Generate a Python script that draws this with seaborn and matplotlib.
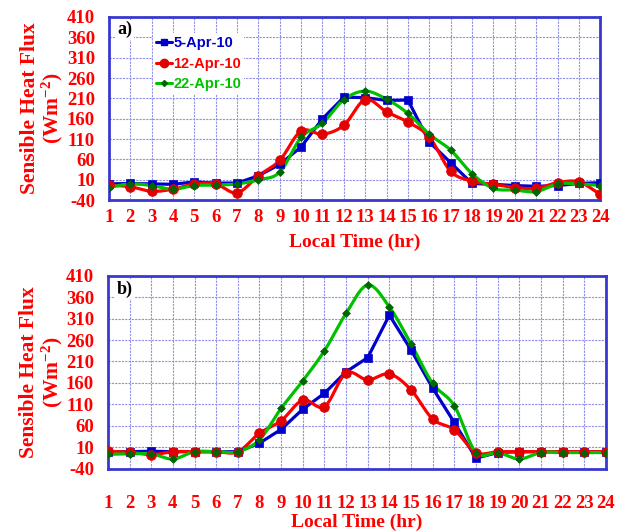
import numpy as np
import pandas as pd
import seaborn as sns
import matplotlib
matplotlib.use("Agg")
import matplotlib.pyplot as plt
from matplotlib.lines import Line2D

sns.set_theme(style="white")
plt.rcParams['font.family'] = ['Liberation Serif', 'DejaVu Serif']
plt.rcParams['mathtext.fontset'] = 'custom'
plt.rcParams['mathtext.rm'] = 'Liberation Serif:bold'
plt.rcParams['mathtext.it'] = 'Liberation Serif:bold'
plt.rcParams['mathtext.bf'] = 'Liberation Serif:bold'
plt.rcParams['mathtext.default'] = 'rm'

hours = list(range(1, 25))
series_names = ["5-Apr-10", "12-Apr-10", "22-Apr-10"]

# Panel a
a_apr05 = [0, 1, 0, -1, 5, 2, 2, 20, 48, 91, 160, 213, 212, 205, 206, 103, 52, 1, -1, -4, -6, -4, 1, 3]
a_apr12 = [-3, -7, -18, -13, 0, 0, -22, 20, 58, 130, 122, 144, 207, 177, 152, 115, 31, 7, -1, -9, -11, 3, 5, -26]
a_apr22 = [-9, 0, -4, -13, -4, -3, 0, 10, 29, 114, 149, 207, 228, 208, 173, 122, 83, 25, -11, -15, -19, 0, 0, -4]

# Panel b
b_apr05 = [0, 0, 1, 0, 0, 0, 0, 20, 52, 99, 136, 186, 219, 318, 237, 148, 68, -15, -2, 0, 0, 0, 0, 0]
b_apr12 = [1, -1, -7, 0, 0, 0, 0, 43, 72, 120, 105, 183, 167, 181, 144, 76, 51, -2, 0, 0, 0, 0, 0, 0]
b_apr22 = [-6, -5, -5, -17, 0, 0, 0, 28, 101, 165, 235, 322, 388, 337, 251, 159, 107, -2, -2, -17, -2, -2, -2, -2]

y_ticks = list(range(-40, 411, 50))

colors = ["#0000CC", "#FF0000", "#00C000"]
marker_face = ["#0000CC", "#E00000", "#006600"]
markers = ["s", "o", "D"]
msizes = [6, 7, 4]
smooth = [False, True, True]


def smooth_curve(x, y, n=20):
    """Excel-like smoothed line (Bezier with Catmull-Rom control points)."""
    x = np.asarray(x, float)
    y = np.asarray(y, float)
    P = np.column_stack([x, y])
    out = []
    for i in range(len(P) - 1):
        p0 = P[i - 1] if i > 0 else P[i]
        p1 = P[i]
        p2 = P[i + 1]
        p3 = P[i + 2] if i + 2 < len(P) else P[i + 1]
        c1 = p1 + (p2 - p0) / 6.0
        c2 = p2 - (p3 - p1) / 6.0
        t = np.linspace(0, 1, n, endpoint=(i == len(P) - 2))[:, None]
        seg = ((1 - t) ** 3) * p1 + 3 * ((1 - t) ** 2) * t * c1 + 3 * (1 - t) * t ** 2 * c2 + t ** 3 * p2
        out.append(seg)
    out = np.vstack(out)
    return out[:, 0], out[:, 1]


fig = plt.figure(figsize=(6.22, 5.31), dpi=100)
ax_a = fig.add_axes([0.175, 0.623, 0.790, 0.345])
ax_b = fig.add_axes([0.1736, 0.117, 0.8004, 0.364])

label_color = "#FF0000"
frame_color = "#3838D0"


def draw_panel(ax, data, tag, xpad, xlabpad, legend=False):
    for i, (name, vals) in enumerate(zip(series_names, data)):
        if smooth[i]:
            sx, sy = smooth_curve(hours, vals)
        else:
            sx, sy = np.asarray(hours, float), np.asarray(vals, float)
        sns.lineplot(x=sx, y=sy, ax=ax, color=colors[i], lw=2.3, sort=False,
                     estimator=None, legend=False, zorder=3)
        df = pd.DataFrame({"hour": hours, "val": vals})
        sns.scatterplot(data=df, x="hour", y="val", ax=ax, marker=markers[i],
                        s=msizes[i] ** 2, color=marker_face[i], edgecolor=marker_face[i],
                        linewidth=0.5, legend=False, zorder=4)
    ax.set_xlim(1, 24)
    ax.set_ylim(-40, 410)
    ax.set_xticks(hours)
    ax.set_yticks(y_ticks)
    ax.set_xticklabels([str(h) for h in hours])
    ax.set_yticklabels([str(v) for v in y_ticks])
    ax.grid(True, color="#9090E8", linestyle=(0, (2, 1)), lw=0.8, zorder=0)
    ax.set_axisbelow(True)
    for sp in ax.spines.values():
        sp.set_color(frame_color)
        sp.set_linewidth(2)
        sp.set_visible(True)
    ax.tick_params(axis="both", length=0, labelcolor=label_color, labelsize=13.5)
    ax.tick_params(axis="x", pad=xpad)
    ax.tick_params(axis="y", pad=10)
    for lab in ax.get_xticklabels() + ax.get_yticklabels():
        lab.set_fontweight("bold")
    ax.set_xlabel("Local Time (hr)", color=label_color, fontsize=14, fontweight="bold",
                  labelpad=xlabpad)
    ax.set_ylabel("Sensible Heat Flux\n(Wm$^{-2}$)", color=label_color, fontsize=15.5,
                  fontweight="bold", labelpad=1, linespacing=1.02)
    ax.text(0.018, 0.93, tag, transform=ax.transAxes, fontsize=13, fontweight="bold",
            color="black", ha="left", va="center", zorder=6,
            bbox=dict(facecolor="white", edgecolor="none", pad=1))
    if legend:
        handles = [Line2D([0], [0], color=colors[i], lw=2.2, marker=markers[i],
                          markersize=msizes[i] - 1, markerfacecolor=marker_face[i],
                          markeredgecolor=marker_face[i]) for i in range(3)]
        leg = ax.legend(handles, series_names, loc="upper left",
                        bbox_to_anchor=(0.075, 0.95), frameon=True, fancybox=False,
                        handlelength=1.1, handletextpad=0.1, labelspacing=0.45,
                        borderpad=0.2, prop={"family": ["Liberation Sans Narrow", "Liberation Sans"],
                                             "weight": "bold", "size": 10.5})
        leg.get_frame().set_facecolor("white")
        leg.get_frame().set_edgecolor("none")
        leg.get_frame().set_alpha(1)
        leg.set_zorder(7)
        for t, c in zip(leg.get_texts(), colors):
            t.set_color(c)


draw_panel(ax_a, [a_apr05, a_apr12, a_apr22], "a)", xpad=6, xlabpad=6, legend=True)
draw_panel(ax_b, [b_apr05, b_apr12, b_apr22], "b)", xpad=19, xlabpad=1, legend=False)

fig.savefig("out.png", dpi=100)
